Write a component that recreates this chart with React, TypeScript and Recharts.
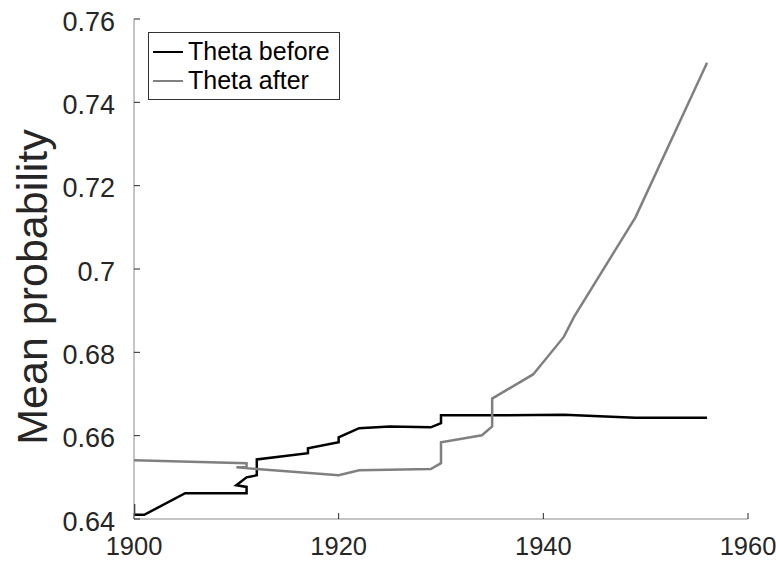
import React from "react";
import { LineChart, Line, XAxis, YAxis, Legend } from "recharts";

// Theta before (black) — years and mean probability, in plot order
const beforeYears = [1900, 1900, 1901, 1905, 1911, 1911, 1910, 1911, 1912, 1912, 1917, 1917, 1920, 1920, 1922, 1925, 1929, 1930, 1930, 1935, 1942, 1949, 1956];
const beforeValues = [0.6436, 0.641, 0.641, 0.6462, 0.6462, 0.6477, 0.6481, 0.65, 0.6505, 0.6543, 0.6558, 0.657, 0.6584, 0.6596, 0.6618, 0.6622, 0.662, 0.663, 0.6649, 0.6649, 0.665, 0.6643, 0.6643];

// Theta after (gray)
const afterYears = [1900, 1911, 1911, 1910, 1912, 1920, 1922, 1929, 1930, 1930, 1934, 1935, 1935, 1939, 1942, 1943, 1949, 1956];
const afterValues = [0.6541, 0.6534, 0.6524, 0.6524, 0.652, 0.6505, 0.6517, 0.652, 0.6534, 0.6584, 0.6601, 0.6622, 0.6689, 0.6747, 0.6837, 0.6885, 0.7124, 0.7495];

const xTicks = [1900, 1920, 1940, 1960];
const yTicks = [0.64, 0.66, 0.68, 0.7, 0.72, 0.74, 0.76];

const seriesNames = ["Theta before", "Theta after"];
const seriesColors = ["#000000", "#808080"];

const beforeData = beforeYears.map((year, i) => ({ year, p: beforeValues[i] }));
const afterData = afterYears.map((year, i) => ({ year, p: afterValues[i] }));

const FONT = "'Liberation Sans', Arial, Helvetica, sans-serif";
const AXIS = "#8c8c8c";
const TEXT = "#262626";

const fmtY = (v: number) => String(Number(v.toFixed(2)));

const LegendBox = () => (
  <div
    style={{
      border: "1px solid #333",
      background: "#fff",
      padding: "4px 9px 4px 4px",
      fontFamily: FONT,
      fontSize: 25,
      color: "#000",
      lineHeight: "29px",
      whiteSpace: "nowrap",
    }}
  >
    {seriesNames.map((name, i) => (
      <div key={name} style={{ display: "flex", alignItems: "center" }}>
        <span
          style={{
            display: "inline-block",
            width: 30,
            height: 0,
            borderTop: `2.5px solid ${seriesColors[i]}`,
            marginRight: 5,
          }}
        />
        {name}
      </div>
    ))}
  </div>
);

export default function App() {
  return (
    <div style={{ position: "absolute", left: 0, top: 0, background: "#fff" }}>
      <LineChart
        width={776}
        height={567}
        margin={{ top: 19, right: 28, bottom: 0, left: 0 }}
      >
        <XAxis
          xAxisId="b"
          dataKey="year"
          type="number"
          domain={[1900, 1960]}
          ticks={xTicks}
          allowDataOverflow
          height={48}
          tickSize={-6}
          tickMargin={24}
          stroke={AXIS}
          tick={{ fill: TEXT, fontSize: 25.5, fontFamily: FONT }}
          tickLine={{ stroke: TEXT }}
        />
        <XAxis
          xAxisId="t"
          orientation="top"
          dataKey="year"
          type="number"
          domain={[1900, 1960]}
          ticks={xTicks}
          height={0}
          tickSize={-6}
          stroke={AXIS}
          tickFormatter={() => ""}
          tickLine={{ stroke: TEXT }}
        />
        <YAxis
          yAxisId="l"
          type="number"
          domain={[0.64, 0.76]}
          ticks={yTicks}
          allowDataOverflow
          width={134}
          tickSize={-6}
          tickMargin={25}
          stroke={AXIS}
          tickFormatter={fmtY}
          tick={{ fill: TEXT, fontSize: 27, fontFamily: FONT, dy: 2 }}
          tickLine={{ stroke: TEXT }}
          label={() => (
            <text
              x={47}
              y={287}
              transform="rotate(-90, 47, 287)"
              textAnchor="middle"
              fill={TEXT}
              fontSize={43}
              fontFamily={FONT}
            >
              Mean probability
            </text>
          )}
        />
        <YAxis
          yAxisId="r"
          orientation="right"
          type="number"
          domain={[0.64, 0.76]}
          ticks={yTicks}
          width={0}
          tickSize={-6}
          stroke={AXIS}
          tickFormatter={() => ""}
          tickLine={{ stroke: TEXT }}
        />
        <Legend
          layout="horizontal"
          verticalAlign="middle"
          align="center"
          content={() => <LegendBox />}
          wrapperStyle={{ position: "absolute", left: 148, top: 32, width: "auto" }}
        />
        <Line
          xAxisId="b"
          yAxisId="l"
          data={beforeData}
          dataKey="p"
          name={seriesNames[0]}
          type="linear"
          stroke={seriesColors[0]}
          strokeWidth={2.5}
          dot={false}
          isAnimationActive={false}
        />
        <Line
          xAxisId="b"
          yAxisId="l"
          data={afterData}
          dataKey="p"
          name={seriesNames[1]}
          type="linear"
          stroke={seriesColors[1]}
          strokeWidth={2.5}
          dot={false}
          isAnimationActive={false}
        />
      </LineChart>
    </div>
  );
}
